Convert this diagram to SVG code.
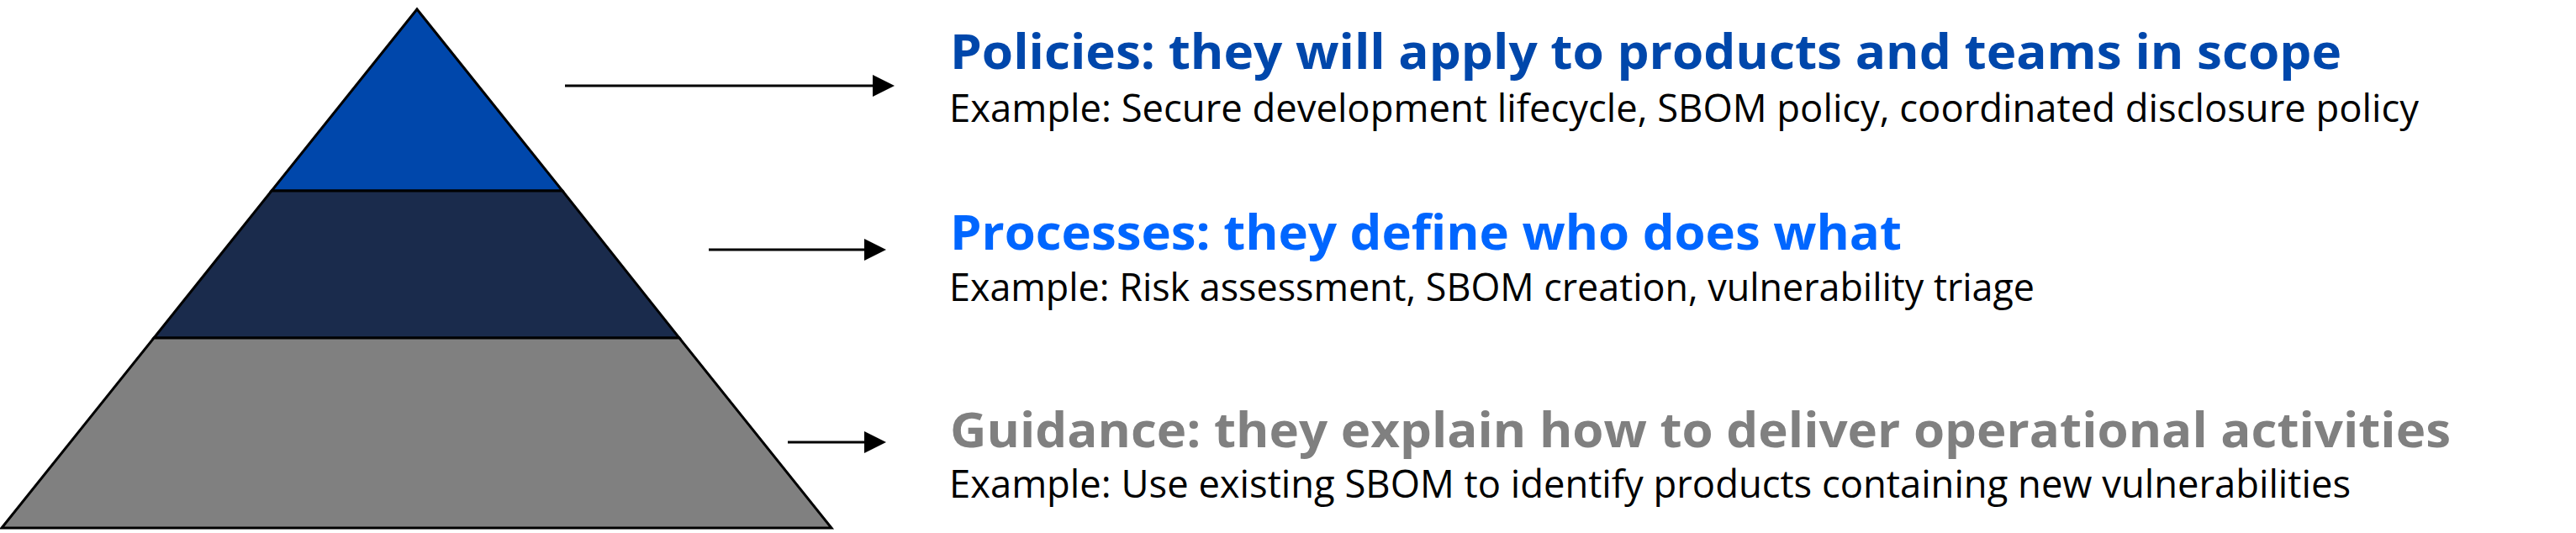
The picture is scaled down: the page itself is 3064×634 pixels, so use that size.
<svg xmlns="http://www.w3.org/2000/svg" width="3064" height="634" viewBox="0 0 3064 634">
  <style>
    .layer { stroke: #000; stroke-width: 3; stroke-linejoin: miter; }
    .conn { stroke: #000; stroke-width: 3; fill: none; marker-end: url(#arrow); }
    .title { font-family: "Open Sans", "Noto Sans", sans-serif; font-weight: 700; font-size: 58px; }
    .example { font-family: "Open Sans", "Noto Sans", sans-serif; font-weight: 400; font-size: 45px; fill: #000; }
  </style>
  <defs>
    <marker id="arrow" markerUnits="userSpaceOnUse" markerWidth="26" markerHeight="26" refX="0" refY="13" orient="auto">
      <path d="M0,0 L26,13 L0,26 Z" fill="#000"/>
    </marker>
  </defs>
  <rect width="3064" height="634" fill="#fff"/>
  <g id="pyramid">
    <g id="layer-policies">
      <polygon class="layer" fill="#0047AB" points="496,11 669,227 323,227"/>
    </g>
    <g id="layer-processes">
      <polygon class="layer" fill="#1A2B4C" points="323,227 669,227 808,402 183,402"/>
    </g>
    <g id="layer-guidance">
      <polygon class="layer" fill="#808080" points="183,402 808,402 989,628 2,628"/>
    </g>
  </g>
  <g id="connectors">
    <line class="conn" x1="672" y1="102" x2="1038" y2="102"/>
    <line class="conn" x1="843" y1="297" x2="1028" y2="297"/>
    <line class="conn" x1="937" y1="526" x2="1028" y2="526"/>
  </g>
  <g id="text-policies">
    <text class="title" x="1130" y="82" fill="#0047AB" textLength="1655" lengthAdjust="spacingAndGlyphs">Policies: they will apply to products and teams in scope</text>
    <text class="example" x="1129" y="145" textLength="1748" lengthAdjust="spacingAndGlyphs">Example: Secure development lifecycle, SBOM policy, coordinated disclosure policy</text>
  </g>
  <g id="text-processes">
    <text class="title" x="1130" y="297" fill="#0066FF" textLength="1132" lengthAdjust="spacingAndGlyphs">Processes: they define who does what</text>
    <text class="example" x="1129" y="358" textLength="1291" lengthAdjust="spacingAndGlyphs">Example: Risk assessment, SBOM creation, vulnerability triage</text>
  </g>
  <g id="text-guidance">
    <text class="title" x="1130" y="532" fill="#808080" textLength="1785" lengthAdjust="spacingAndGlyphs">Guidance: they explain how to deliver operational activities</text>
    <text class="example" x="1129" y="592" textLength="1667" lengthAdjust="spacingAndGlyphs">Example: Use existing SBOM to identify products containing new vulnerabilities</text>
  </g>
</svg>
